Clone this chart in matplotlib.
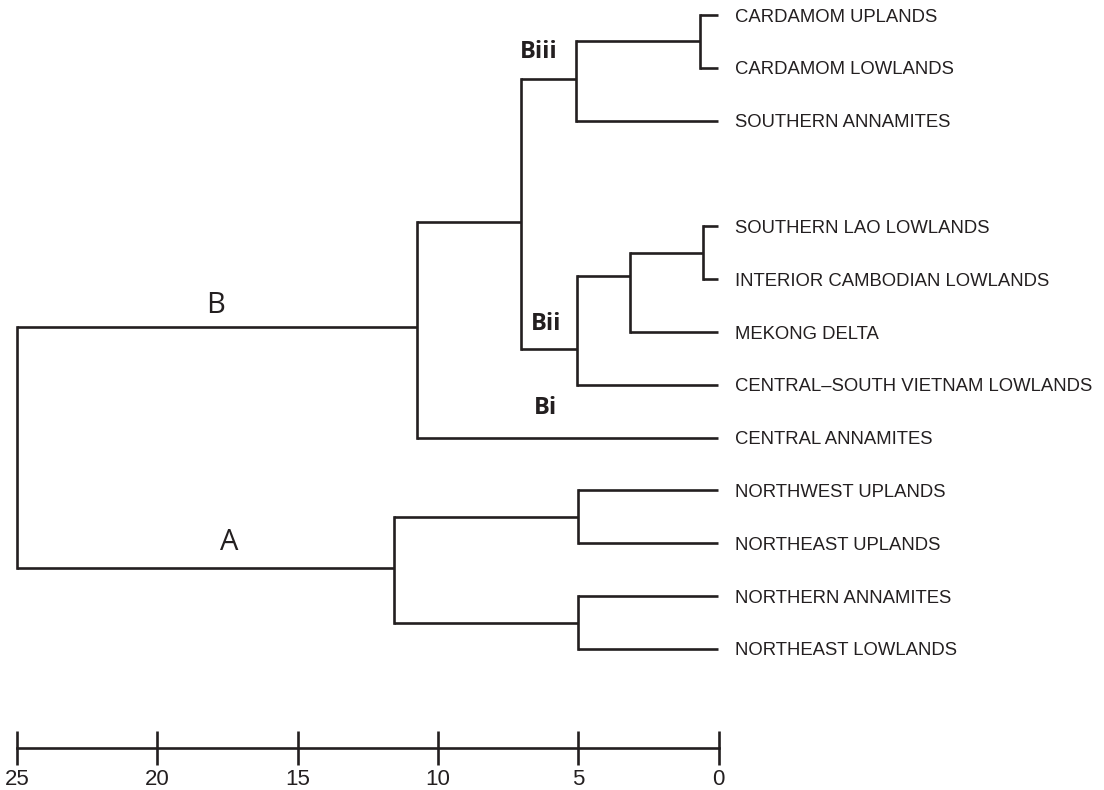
import matplotlib
matplotlib.use("Agg")
import matplotlib.pyplot as plt

# ---------------- data ----------------
leaf_names = [
    "CARDAMOM UPLANDS",
    "CARDAMOM LOWLANDS",
    "SOUTHERN ANNAMITES",
    "SOUTHERN LAO LOWLANDS",
    "INTERIOR CAMBODIAN LOWLANDS",
    "MEKONG DELTA",
    "CENTRAL\u2013SOUTH VIETNAM LOWLANDS",
    "CENTRAL ANNAMITES",
    "NORTHWEST UPLANDS",
    "NORTHEAST UPLANDS",
    "NORTHERN ANNAMITES",
    "NORTHEAST LOWLANDS",
]
# row index of each leaf (row 3 is left empty in the original)
leaf_rows = [0, 1, 2, 4, 5, 6, 7, 8, 9, 10, 11, 12]

# merges: ids 0..11 are leaves, 12.. are internal nodes (in order)
merge_left = [0, 12, 3, 14, 15, 13, 17, 8, 10, 19, 18]
merge_right = [1, 2, 4, 5, 6, 16, 7, 9, 11, 20, 21]
merge_height = [0.66, 5.09, 0.54, 3.15, 5.03, 7.05, 10.74, 5.0, 5.0, 11.55, 25.0]
# row position of each node's connecting stem (as drawn in the original)
merge_stem_row = [0.5, 1.21, 4.5, 4.94, 6.32, 3.92, 5.91, 9.5, 11.5, 10.46, None]

cluster_labels = ["B", "A", "Biii", "Bii", "Bi"]
cluster_bold = [False, False, True, True, True]

scale_ticks = [25, 20, 15, 10, 5, 0]
scale_ticklabels = ["25", "20", "15", "10", "5", "0"]

# ---------------- drawing ----------------
INK = "#231f20"
LW = 1.9

fig = plt.figure(figsize=(11.04, 7.90), dpi=100)
ax = fig.add_axes([0, 0, 1, 1])
ax.set_xlim(25.606, -13.74)
ax.set_ylim(14.67, -0.284)
ax.axis("off")

n_leaves = len(leaf_names)
node_x = {i: 0.0 for i in range(n_leaves)}
node_y = {i: float(leaf_rows[i]) for i in range(n_leaves)}

for k, (l, r, h, s) in enumerate(zip(merge_left, merge_right, merge_height, merge_stem_row)):
    nid = n_leaves + k
    yl, yr = node_y[l], node_y[r]
    ax.plot([node_x[l], h], [yl, yl], color=INK, lw=LW, solid_capstyle="butt")
    ax.plot([node_x[r], h], [yr, yr], color=INK, lw=LW, solid_capstyle="butt")
    ax.plot([h, h], [yl, yr], color=INK, lw=LW, solid_capstyle="projecting")
    node_x[nid] = h
    node_y[nid] = s if s is not None else (yl + yr) / 2

# leaf labels
for name, row in zip(leaf_names, leaf_rows):
    ax.annotate(name, (0, row), xytext=(12, -4.7), textcoords="offset points",
                ha="left", va="baseline", fontsize=13.3, color=INK,
                family=["Liberation Sans", "DejaVu Sans"])

# cluster labels (positions: layout)
label_pos = [(17.91, 5.49), (17.44, 9.99), (6.40, 0.70), (6.15, 5.85), (6.18, 7.44)]
for txt, bold, (x, y) in zip(cluster_labels, cluster_bold, label_pos):
    ax.text(x, y, txt, ha="center", va="center",
            fontsize=17 if bold else 21,
            fontweight="bold" if bold else "normal",
            color=INK, family=["Open Sans", "DejaVu Sans"])

# scale bar
ax2 = fig.add_axes([17 / 1104, (790 - 748) / 790, 701.5 / 1104, 0.0001])
ax2.set_xlim(25, 0)
ax2.set_ylim(0, 1)
for side in ["top", "left", "right"]:
    ax2.spines[side].set_visible(False)
ax2.spines["bottom"].set_linewidth(LW)
ax2.spines["bottom"].set_color(INK)
ax2.set_yticks([])
ax2.set_xticks(scale_ticks)
ax2.set_xticklabels(scale_ticklabels)
ax2.tick_params(axis="x", direction="inout", length=24, width=LW, color=INK,
                labelcolor=INK, pad=3, labelsize=16)
for t in ax2.get_xticklabels():
    t.set_family(["Liberation Sans Narrow", "Liberation Sans", "DejaVu Sans"])
    t.set_fontstretch("condensed")
ax2.patch.set_visible(False)

fig.savefig("out.png", dpi=100)
